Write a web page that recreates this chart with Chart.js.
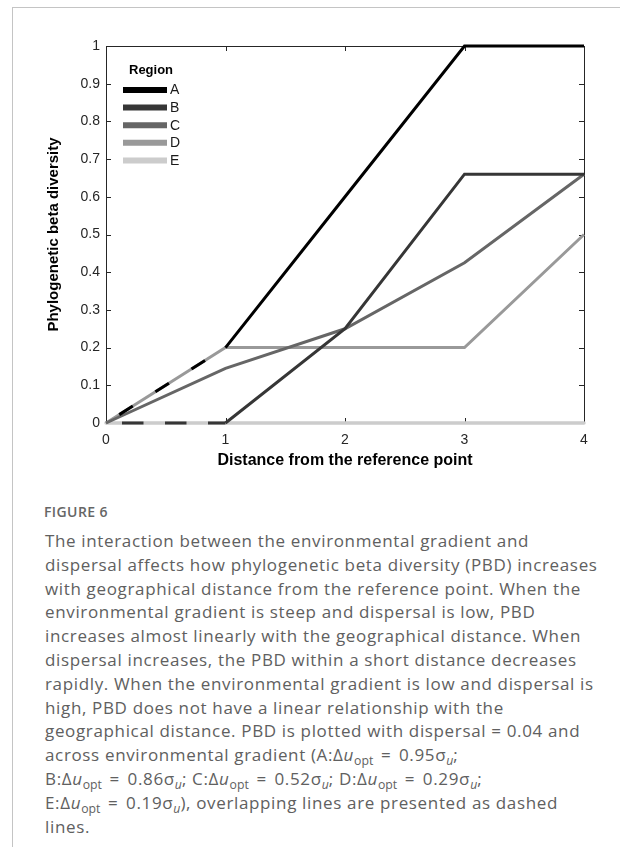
<!DOCTYPE html>
<html>
<head>
<meta charset="utf-8">
<script src="https://cdn.jsdelivr.net/npm/chart.js@4.4.0/dist/chart.umd.min.js"></script>
<style>
    body { margin: 0; background: #fff; width: 620px; height: 847px; overflow: hidden; position: relative; }
    #frame { position: absolute; left: 12px; top: 7px; right: 0; bottom: 0; border-left: 1px solid #c4c4c4; border-top: 1px solid #c4c4c4; }
    #chart { position: absolute; left: 0; top: 0; }
    #figlabel { position: absolute; left: 44px; top: 502px; font: 600 14px "Open Sans", sans-serif; letter-spacing: 0.4px; color: #666; line-height: 20px; }
    #caption { position: absolute; left: 45px; top: 529px; font: 17px "Open Sans", sans-serif; letter-spacing: 0.65px; color: #606060; line-height: 23.8px; white-space: nowrap; }
    #caption sub { font-size: 0.72em; vertical-align: -0.3em; line-height: 0; letter-spacing: 0; }
    .eq { padding: 0 0.45em; }
</style>
</head>
<body>
<div id="frame"></div>
<canvas id="chart" width="620" height="480"></canvas>
<div id="figlabel">FIGURE 6</div>
<div id="caption">
The interaction between the environmental gradient and<br>
dispersal affects how phylogenetic beta diversity (PBD) increases<br>
with geographical distance from the reference point. When the<br>
environmental gradient is steep and dispersal is low, PBD<br>
increases almost linearly with the geographical distance. When<br>
dispersal increases, the PBD within a short distance decreases<br>
rapidly. When the environmental gradient is low and dispersal is<br>
high, PBD does not have a linear relationship with the<br>
geographical distance. PBD is plotted with dispersal = 0.04 and<br>
across environmental gradient (A:Δ<i>u</i><sub>opt</sub><span class="eq">=</span>0.95σ<sub><i>u</i></sub>;<br>
B:Δ<i>u</i><sub>opt</sub><span class="eq">=</span>0.86σ<sub><i>u</i></sub>; C:Δ<i>u</i><sub>opt</sub><span class="eq">=</span>0.52σ<sub><i>u</i></sub>; D:Δ<i>u</i><sub>opt</sub><span class="eq">=</span>0.29σ<sub><i>u</i></sub>;<br>
E:Δ<i>u</i><sub>opt</sub><span class="eq">=</span>0.19σ<sub><i>u</i></sub>), overlapping lines are presented as dashed<br>
lines.
</div>
<script>
// Data
const distance = [0, 1, 2, 3, 4];
const regionA = [0, 0.2, 0.6, 1, 1];
const regionB = [0, 0, 0.25, 0.66, 0.66];
const regionC = [0, 0.145, 0.25, 0.425, 0.66];
const regionD = [0, 0.2, 0.2, 0.2, 0.5];
const regionE = [0, 0, 0, 0, 0];

const regionNames = ['A', 'B', 'C', 'D', 'E'];
const regionColors = ['#000000', '#363636', '#666666', '#999999', '#cccccc'];
const xTickLabels = ['0', '1', '2', '3', '4'];
const yTickLabels = ['0', '0.1', '0.2', '0.3', '0.4', '0.5', '0.6', '0.7', '0.8', '0.9', '1'];

const AXIS_COLOR = '#262626';
const FONT = '"Liberation Sans", Arial, sans-serif';

function toPoints(values) {
    return distance.map((x, i) => ({ x: x, y: values[i] }));
}

// first segment of A over D and B over E is dashed (overlap)
const firstDashed = (dash, offset) => ({
    borderDash: ctx => ctx.p0DataIndex === 0 ? dash : undefined,
    borderDashOffset: ctx => ctx.p0DataIndex === 0 ? offset : undefined
});

const seriesValues = [regionA, regionB, regionC, regionD, regionE];
const datasets = seriesValues.map((values, i) => ({
    label: regionNames[i],
    data: toPoints(values),
    borderColor: regionColors[i],
    backgroundColor: regionColors[i],
    borderWidth: i === 4 ? 3.5 : 3,
    borderCapStyle: i === 4 ? 'round' : 'butt',
    pointRadius: 0,
    tension: 0,
    clip: 6
}));
datasets[0].segment = firstDashed([16, 26.7], 27);
datasets[1].segment = firstDashed([21.5, 21.5], 27);

// Box around plot with inward tick marks
const axesBox = {
    id: 'axesBox',
    beforeDatasetsDraw(chart) {
        const { ctx, chartArea: a, scales } = chart;
        ctx.save();
        ctx.strokeStyle = AXIS_COLOR;
        ctx.lineWidth = 1;
        ctx.beginPath();
        ctx.rect(Math.round(a.left) + 0.5, Math.round(a.top) + 0.5, Math.round(a.right - a.left), Math.round(a.bottom - a.top));
        const tl = 5;
        scales.x.ticks.forEach(t => {
            const px = Math.round(scales.x.getPixelForValue(t.value)) + 0.5;
            ctx.moveTo(px, a.bottom); ctx.lineTo(px, a.bottom - tl);
            ctx.moveTo(px, a.top); ctx.lineTo(px, a.top + tl);
        });
        scales.y.ticks.forEach(t => {
            const py = Math.round(scales.y.getPixelForValue(t.value)) + 0.5;
            ctx.moveTo(a.left, py); ctx.lineTo(a.left + tl, py);
            ctx.moveTo(a.right, py); ctx.lineTo(a.right - tl, py);
        });
        ctx.stroke();
        ctx.restore();
    }
};

// Legend inside the plot, top-left
const innerLegend = {
    id: 'innerLegend',
    afterDatasetsDraw(chart) {
        const { ctx, chartArea: a } = chart;
        const x0 = a.left + 17;
        const y0 = a.top + 44;
        ctx.save();
        ctx.fillStyle = '#000';
        ctx.font = 'bold 13px ' + FONT;
        ctx.textBaseline = 'middle';
        ctx.textAlign = 'left';
        ctx.fillText('Region', x0 + 6, a.top + 24);
        ctx.font = '14px ' + FONT;
        chart.data.datasets.forEach((ds, i) => {
            const y = y0 + i * 17.6;
            ctx.strokeStyle = ds.borderColor;
            ctx.lineWidth = 6;
            ctx.beginPath();
            ctx.moveTo(x0, y);
            ctx.lineTo(x0 + 44, y);
            ctx.stroke();
            ctx.fillStyle = '#1a1a1a';
            ctx.fillText(ds.label, x0 + 47, y + 0.5);
        });
        ctx.restore();
    }
};

new Chart(document.getElementById('chart'), {
    type: 'line',
    data: { datasets: datasets },
    options: {
        responsive: false,
        animation: false,
        events: [],
        layout: { padding: { left: 30, top: 46, right: 36, bottom: 0 } },
        plugins: {
            legend: { display: false },
            tooltip: { enabled: false }
        },
        scales: {
            x: {
                type: 'linear',
                min: 0,
                max: 4,
                afterFit: scale => { scale.height = 57; },
                grid: { display: false, drawTicks: false },
                border: { display: false },
                ticks: {
                    stepSize: 1,
                    padding: 9,
                    color: AXIS_COLOR,
                    font: { family: FONT, size: 14 },
                    callback: (v, i) => xTickLabels[i]
                },
                title: {
                    display: true,
                    text: 'Distance from the reference point',
                    color: '#000',
                    font: { family: FONT, size: 16, weight: 'bold' },
                    padding: { top: 0, bottom: 10 }
                }
            },
            y: {
                min: 0,
                max: 1,
                afterFit: scale => { scale.width = 76; },
                grid: { display: false, drawTicks: false },
                border: { display: false },
                ticks: {
                    stepSize: 0.1,
                    padding: 6,
                    color: AXIS_COLOR,
                    font: { family: FONT, size: 14 },
                    callback: (v, i) => yTickLabels[i]
                },
                title: {
                    display: true,
                    text: 'Phylogenetic beta diversity',
                    color: '#000',
                    font: { family: FONT, size: 15, weight: 'bold' },
                    padding: { top: 15, bottom: 0 }
                }
            }
        }
    },
    plugins: [axesBox, innerLegend]
});
</script>
</body>
</html>
